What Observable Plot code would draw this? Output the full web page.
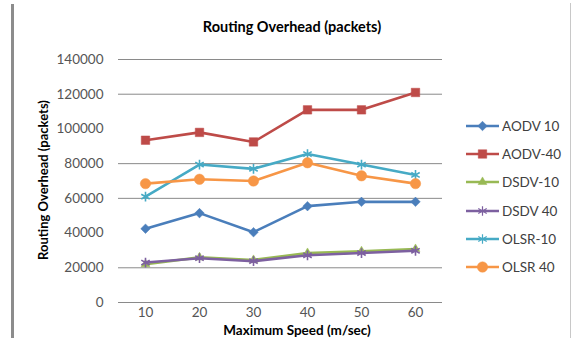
<!DOCTYPE html>
<html>
<head>
<meta charset="utf-8">
<script src="https://cdn.jsdelivr.net/npm/d3@7"></script>
<script src="https://cdn.jsdelivr.net/npm/@observablehq/plot@0.6"></script>
<style>
  html, body { margin: 0; padding: 0; background: #fff; }
  #wrap { position: relative; width: 573px; height: 338px; overflow: hidden; font-family: Lato, "Open Sans", sans-serif; }
  #wrap svg.plot { position: absolute; left: 0; top: 0; }
  .lbl { position: absolute; font-weight: bold; color: #000; white-space: nowrap; }
  #title { left: 0; width: 584px; top: 18px; text-align: center; font-size: 14.5px; }
  #xlabel { left: 297px; top: 324px; transform: translateX(-50%); font-size: 13.5px; background: #fff; padding: 0 1px; line-height: 13px; }
  #ylabel { left: 43px; top: 180px; transform: translate(-50%, -50%) rotate(-90deg); font-size: 13px; }
  #legend { position: absolute; left: 465px; top: 112px; }
  .item { display: flex; align-items: center; height: 28.2px; font-size: 13.5px; color: #404040; }
  .item svg { display: block; margin-right: 2px; }
  #lborder { position: absolute; left: 11px; top: 4px; width: 3px; height: 334px; background: #8c8c8c; }
  #rborder { position: absolute; left: 570px; top: 3px; width: 1px; height: 335px; background: #c8c8c8; }
</style>
</head>
<body>
<div id="wrap">
  <div id="lborder"></div>
  <div id="rborder"></div>
</div>
<script>
// ---- data ----
const speeds = ["10", "20", "30", "40", "50", "60"];
const seriesNames = ["AODV 10", "AODV-40", "DSDV-10", "DSDV 40", "OLSR-10", "OLSR 40"];
const aodv10 = [42500, 51500, 40500, 55500, 58000, 58000];
const aodv40 = [93500, 98000, 92500, 111000, 111000, 121000];
const dsdv10 = [22000, 26000, 24500, 28500, 29500, 30800];
const dsdv40 = [23000, 25500, 23800, 27200, 28500, 29800];
const olsr10 = [61000, 79500, 77000, 85500, 79500, 73500];
const olsr40 = [68500, 71000, 70000, 80500, 73000, 68500];
const yTicks = [0, 20000, 40000, 60000, 80000, 100000, 120000, 140000];
const gridValues = [0, 20000, 60000, 80000, 120000, 140000];
const titleText = "Routing Overhead (packets)";
const xTitle = "Maximum Speed (m/sec)";
const yTitle = "Routing Overhead (packets)";

// ---- styles ----
const colors = ["#4A7EBB", "#BE4B48", "#98B954", "#7D60A0", "#46AAC5", "#F79646"];
const symbols = ["diamond2", "square2", "triangle2", "asterisk", "asterisk", "circle"];
const radii = [4.3, 5.4, 4.2, 4.6, 4.6, 5.2];

const allValues = [aodv10, aodv40, dsdv10, dsdv40, olsr10, olsr40];
const rows = [];
seriesNames.forEach((name, i) => {
  speeds.forEach((s, j) => rows.push({series: name, idx: i, speed: s, value: allValues[i][j]}));
});

const marks = [
  Plot.ruleY(gridValues, {stroke: "#8a8a8a", strokeWidth: 1}),
  Plot.ruleX([0], {x: () => null, frameAnchor: "left", stroke: "#8a8a8a"})
];
seriesNames.forEach((name, i) => {
  const data = rows.filter(r => r.idx === i);
  marks.push(Plot.line(data, {x: "speed", y: "value", stroke: colors[i], strokeWidth: 2.6}));
  const stroked = symbols[i] === "asterisk";
  marks.push(Plot.dot(data, {
    x: "speed", y: "value", symbol: symbols[i], r: radii[i],
    fill: stroked ? "none" : colors[i],
    stroke: colors[i], strokeWidth: stroked ? 1.6 : 0.5
  }));
});

const chart = Plot.plot({
  width: 573,
  height: 338,
  marginLeft: 118,
  marginRight: 131,
  marginTop: 59,
  marginBottom: 36,
  style: {fontFamily: "Lato, 'Open Sans', sans-serif", fontSize: "13.5px", color: "#555", background: "transparent"},
  x: {type: "point", domain: speeds, padding: 0.5, label: null, tickSize: 0, tickPadding: 5},
  y: {domain: [0, 140000], ticks: yTicks, tickFormat: d => String(d), label: null, tickSize: 0, tickPadding: 15},
  marks
});
chart.classList.add("plot");
const wrap = document.getElementById("wrap");
wrap.appendChild(chart);

function addLabel(id, text) {
  const d = document.createElement("div");
  d.id = id; d.className = "lbl"; d.textContent = text;
  wrap.appendChild(d);
}
addLabel("title", titleText);
addLabel("xlabel", xTitle);
addLabel("ylabel", yTitle);

// legend
const legend = document.createElement("div");
legend.id = "legend";
seriesNames.forEach((name, i) => {
  const item = document.createElement("div");
  item.className = "item";
  const svg = d3.create("svg").attr("width", 35).attr("height", 14);
  svg.append("line").attr("x1", 1).attr("x2", 34).attr("y1", 7).attr("y2", 7)
    .attr("stroke", colors[i]).attr("stroke-width", 2.6);
  const symMap = {diamond2: d3.symbolDiamond2, square2: d3.symbolSquare2, triangle2: d3.symbolTriangle2, asterisk: d3.symbolAsterisk, circle: d3.symbolCircle};
  const stroked = symbols[i] === "asterisk";
  svg.append("path").attr("transform", "translate(17.5,7)")
    .attr("d", d3.symbol(symMap[symbols[i]], Math.PI * radii[i] * radii[i])())
    .attr("fill", stroked ? "none" : colors[i])
    .attr("stroke", colors[i]).attr("stroke-width", stroked ? 1.2 : 0.5);
  item.appendChild(svg.node());
  const t = document.createElement("span");
  t.textContent = name;
  item.appendChild(t);
  legend.appendChild(item);
});
wrap.appendChild(legend);
</script>
</body>
</html>
